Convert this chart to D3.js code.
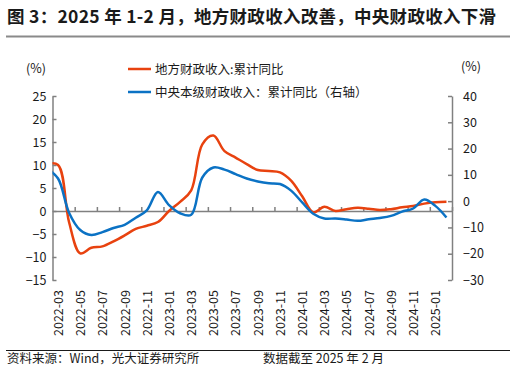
<!DOCTYPE html>
<html>
<head>
<meta charset="utf-8">
<script src="https://cdn.jsdelivr.net/npm/d3@7"></script>
<style>
  html, body { margin: 0; padding: 0; background: #fff; }
  svg { display: block; }
  text { font-family: "Noto Sans CJK SC", "Noto Sans", sans-serif; fill: #1a1a1a; }
</style>
</head>
<body>
<svg id="chart" width="516" height="371"></svg>
<script>
// ---- data ----
const titleText = "图 3：2025 年 1-2 月，地方财政收入改善，中央财政收入下滑";
const sourceText = "资料来源：Wind，光大证券研究所";
const dateText = "数据截至 2025 年 2 月";
const seriesNames = ["地方财政收入:累计同比", "中央本级财政收入：累计同比（右轴）"];

const months = [
  "2022-02","2022-03","2022-04","2022-05","2022-06","2022-07","2022-08","2022-09","2022-10","2022-11","2022-12",
  "2023-01","2023-02","2023-03","2023-04","2023-05","2023-06","2023-07","2023-08","2023-09","2023-10","2023-11","2023-12",
  "2024-01","2024-02","2024-03","2024-04","2024-05","2024-06","2024-07","2024-08","2024-09","2024-10","2024-11","2024-12",
  "2025-01","2025-02"
];
const localRevenue = [
  10.2, 10.0, -2.5, -9.2, -8.0, -7.7, -6.6, -5.3, -3.9, -3.2, -2.4,
  0.0, 2.0, 4.5, 14.5, 16.4, 13.0, 11.6, 10.2, 8.9, 8.7, 8.4, 6.6,
  3.2, -0.3, 0.9, 0.0, 0.4, 0.7, 0.5, 0.2, 0.4, 0.8, 1.1, 1.6,
  1.9, 2.0
];
const centralRevenue = [
  12.5, 8.6, -4.5, -11.0, -12.9, -11.8, -10.2, -9.0, -6.3, -3.5, 3.5,
  -1.5, -4.6, -5.2, 9.0, 12.8, 12.0, 10.3, 8.6, 7.5, 6.8, 6.5, 4.0,
  -0.5, -4.8, -6.6, -6.6, -7.0, -7.5, -6.9, -6.4, -5.6, -4.0, -2.8, 0.6,
  -1.8, -6.2
];
const xTickLabels = ["2022-03","2022-05","2022-07","2022-09","2022-11","2023-01","2023-03","2023-05",
  "2023-07","2023-09","2023-11","2024-01","2024-03","2024-05","2024-07","2024-09","2024-11","2025-01"];
const leftTicks = [-15, -10, -5, 0, 5, 10, 15, 20, 25];
const rightTicks = [-30, -20, -10, 0, 10, 20, 30, 40];

// ---- layout ----
const svg = d3.select("#chart");
const plotL = 52.5, plotR = 452, plotT = 96, plotB = 280;
const red = "#e8420f", blue = "#0b72c4", axisCol = "#808080";

const x = d3.scaleLinear().domain([0.5, months.length - 0.5]).range([plotL, plotR]);
const yL = d3.scaleLinear().domain([-15, 25]).range([plotB, plotT]);
const yR = d3.scaleLinear().domain([-30, 40]).range([plotB, plotT]);

// title
svg.append("text").attr("x", 7).attr("y", 22.5)
  .attr("textLength", 489).attr("lengthAdjust", "spacing")
  .style("font-size", "17.5px").style("font-weight", "700").text(titleText);
svg.append("line").attr("x1", 6).attr("x2", 510).attr("y1", 36.5).attr("y2", 36.5)
  .attr("stroke", "#8a8a8a").attr("stroke-width", 2);

// unit labels
svg.append("text").attr("x", 36).attr("y", 73).attr("text-anchor", "middle")
  .style("font-size", "12.5px").text("(%)");
svg.append("text").attr("x", 471).attr("y", 71).attr("text-anchor", "middle")
  .style("font-size", "12.5px").text("(%)");

// legend
const legend = svg.append("g");
[[seriesNames[0], red, 69], [seriesNames[1], blue, 92]].forEach(([name, col, ly]) => {
  legend.append("line").attr("x1", 128).attr("x2", 151).attr("y1", ly).attr("y2", ly)
    .attr("stroke", col).attr("stroke-width", 2.5);
  legend.append("text").attr("x", 155).attr("y", ly + 4.5)
    .style("font-size", "12.5px").text(name);
});

// axes
function styleAxis(g) {
  g.selectAll("path, line").attr("stroke", axisCol).attr("stroke-width", 1.5);
  g.selectAll("text").style("font-size", "12.5px").attr("fill", "#1a1a1a")
    .style("font-family", '"Noto Sans CJK SC", "Noto Sans", sans-serif');
}
const leftAxis = svg.append("g").attr("transform", `translate(${plotL},0)`)
  .call(d3.axisLeft(yL).tickValues(leftTicks).tickSize(-4).tickSizeOuter(0).tickPadding(6));
styleAxis(leftAxis);
const rightAxis = svg.append("g").attr("transform", `translate(${plotR},0)`)
  .call(d3.axisRight(yR).tickValues(rightTicks).tickSize(-4).tickSizeOuter(0).tickPadding(11));
styleAxis(rightAxis);

// x axis at left zero
const boundaryTicks = d3.range(2.5, months.length, 2);
const xAxisG = svg.append("g").attr("transform", `translate(0,${yL(0)})`)
  .call(d3.axisBottom(x).tickValues(boundaryTicks).tickSize(-4).tickSizeOuter(0).tickFormat(""));
styleAxis(xAxisG);

// x labels, rotated
const labelIdx = xTickLabels.map(l => months.indexOf(l));
const xLab = svg.append("g").attr("transform", `translate(0,${plotB})`)
  .call(d3.axisBottom(x).tickValues(labelIdx).tickSize(0).tickFormat(i => months[i]));
xLab.select(".domain").remove();
xLab.selectAll("text")
  .attr("transform", "rotate(-90)")
  .attr("text-anchor", "end")
  .attr("x", -10).attr("y", 0).attr("dy", "0.35em")
  .style("font-size", "12.5px")
  .style("font-family", '"Noto Sans CJK SC", "Noto Sans", sans-serif')
  .attr("fill", "#1a1a1a");

// lines
svg.append("clipPath").attr("id", "plotclip").append("rect")
  .attr("x", plotL).attr("y", plotT - 10).attr("width", plotR - plotL).attr("height", plotB - plotT + 20);
const lineL = d3.line().x((d, i) => x(i)).y(d => yL(d)).curve(d3.curveCatmullRom.alpha(0.5));
const lineR = d3.line().x((d, i) => x(i)).y(d => yR(d)).curve(d3.curveCatmullRom.alpha(0.5));
const lines = svg.append("g").attr("clip-path", "url(#plotclip)");
lines.append("path").datum(localRevenue).attr("d", lineL)
  .attr("fill", "none").attr("stroke", red).attr("stroke-width", 2.5);
lines.append("path").datum(centralRevenue).attr("d", lineR)
  .attr("fill", "none").attr("stroke", blue).attr("stroke-width", 2.5);

// footer
svg.append("line").attr("x1", 6).attr("x2", 510).attr("y1", 350.5).attr("y2", 350.5)
  .attr("stroke", "#1a1a1a").attr("stroke-width", 1);
svg.append("text").attr("x", 7).attr("y", 363).style("font-size", "12.5px").text(sourceText);
svg.append("text").attr("x", 263).attr("y", 363).style("font-size", "12.5px").text(dateText);
</script>
</body>
</html>
